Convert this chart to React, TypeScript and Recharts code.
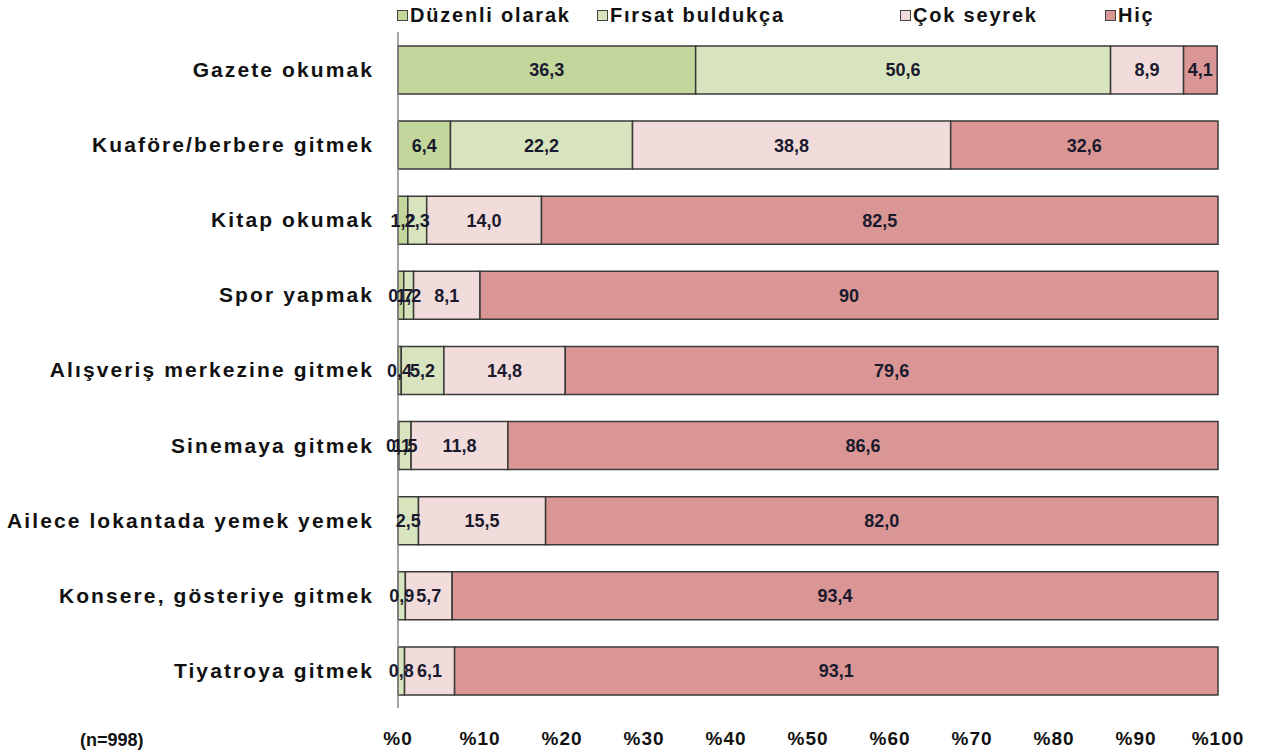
import React from "react";
import {
  BarChart,
  Bar,
  XAxis,
  YAxis,
  Legend,
  LabelList,
} from "recharts";

const categories = [
  "Gazete okumak",
  "Kuaföre/berbere gitmek",
  "Kitap okumak",
  "Spor yapmak",
  "Alışveriş merkezine gitmek",
  "Sinemaya gitmek",
  "Ailece lokantada yemek yemek",
  "Konsere, gösteriye gitmek",
  "Tiyatroya gitmek",
];

// values as printed on the chart (Turkish decimal comma)
const duzenli = ["36,3", "6,4", "1,2", "0,7", "0,4", "0,1", "", "", ""];
const firsat = ["50,6", "22,2", "2,3", "1,2", "5,2", "1,5", "2,5", "0,9", "0,8"];
const seyrek = ["8,9", "38,8", "14,0", "8,1", "14,8", "11,8", "15,5", "5,7", "6,1"];
const hic = ["4,1", "32,6", "82,5", "90", "79,6", "86,6", "82,0", "93,4", "93,1"];

const xTicks = [0, 10, 20, 30, 40, 50, 60, 70, 80, 90, 100];

const FONT = "'Liberation Sans', Arial, sans-serif";

const toNum = (s: string) => (s === "" ? 0 : parseFloat(s.replace(",", ".")));

const data = categories.map((name, i) => ({
  name,
  d: toNum(duzenli[i]),
  dL: duzenli[i],
  f: toNum(firsat[i]),
  fL: firsat[i],
  s: toNum(seyrek[i]),
  sL: seyrek[i],
  h: toNum(hic[i]),
  hL: hic[i],
}));

const series = [
  { key: "d", label: "dL", name: "Düzenli olarak", color: "#c3d69b" },
  { key: "f", label: "fL", name: "Fırsat buldukça", color: "#d7e4bd" },
  { key: "s", label: "sL", name: "Çok seyrek", color: "#f2dcdb" },
  { key: "h", label: "hL", name: "Hiç", color: "#d99694" },
];

const legendX = [397, 597, 900, 1105];

function LegendContent() {
  // payload order is not guaranteed, so draw straight from the series list
  return (
    <div style={{ position: "relative", height: 26, width: 1263 }}>
      {series.map((s, i) => (
        <div
          key={s.key}
          style={{
            position: "absolute",
            left: legendX[i],
            top: 0,
            display: "flex",
            alignItems: "center",
            fontFamily: FONT,
            fontWeight: "bold",
            fontSize: 20,
            letterSpacing: 1.8,
            color: "#111",
            whiteSpace: "nowrap",
          }}
        >
          <span
            style={{
              display: "inline-block",
              width: 9,
              height: 9,
              background: s.color,
              border: "1px solid #444",
              marginRight: 2,
            }}
          />
          {s.name}
        </div>
      ))}
    </div>
  );
}

export default function App() {
  return (
    <div style={{ position: "absolute", left: 0, top: 0, width: 1263, height: 755, background: "#fff" }}>
      <BarChart
        width={1263}
        height={755}
        data={data}
        layout="vertical"
        margin={{ top: 6, right: 45, left: 0, bottom: 0 }}
      >
        <XAxis
          type="number"
          domain={[0, 100]}
          ticks={xTicks}
          tickFormatter={(v) => "%" + v}
          axisLine={false}
          tickLine={false}
          height={47}
          tickMargin={18}
          interval={0}
          tick={{ fontFamily: FONT, fontWeight: "bold", fontSize: 19, fill: "#111", letterSpacing: 1 }}
        />
        <YAxis
          type="category"
          dataKey="name"
          width={398}
          axisLine={{ stroke: "#888", strokeWidth: 1.5 }}
          tickLine={false}
          tickMargin={18}
          interval={0}
          tick={{ fontFamily: FONT, fontWeight: "bold", fontSize: 21, fill: "#111", letterSpacing: 2.1 }}
        />
        <Legend
          verticalAlign="top"
          align="left"
          wrapperStyle={{ top: 4, left: 0, width: 1263 }}
          content={<LegendContent />}
        />
        {series.map((s) => (
          <Bar
            key={s.key}
            dataKey={s.key}
            name={s.name}
            stackId="a"
            fill={s.color}
            stroke="#3a3a3a"
            strokeWidth={1.5}
            barSize={48}
            isAnimationActive={false}
          >
            <LabelList
              dataKey={s.label}
              position="center"
              style={{ fontFamily: FONT, fontWeight: "bold", fontSize: 18, fill: "#1a1a2e" }}
            />
          </Bar>
        ))}
      </BarChart>
      <div
        style={{
          position: "absolute",
          left: 80,
          top: 730,
          fontFamily: FONT,
          fontWeight: "bold",
          fontSize: 18,
          color: "#111",
        }}
      >
        (n=998)
      </div>
    </div>
  );
}
